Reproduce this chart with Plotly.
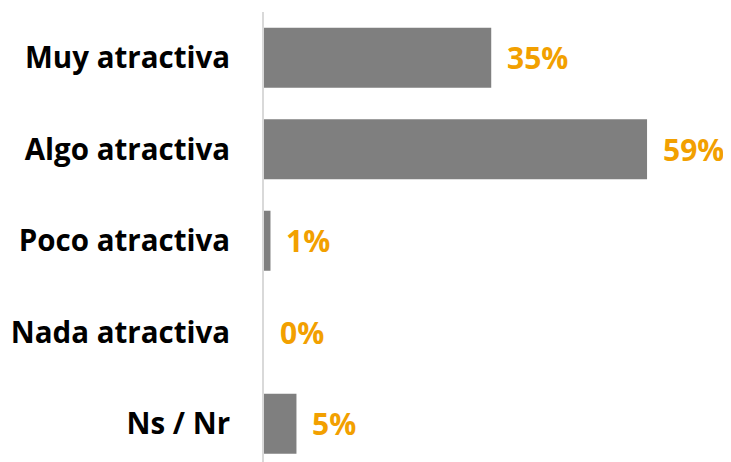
import plotly.graph_objects as go

categories = ["Muy atractiva", "Algo atractiva", "Poco atractiva", "Nada atractiva", "Ns / Nr"]
values = [35, 59, 1, 0, 5]
value_labels = ["35%", "59%", "1%", "0%", "5%"]

BAR = "#7f7f7f"
ORANGE = "#F2A000"
FONT = "'Open Sans', sans-serif"

fig = go.Figure()
fig.add_trace(go.Bar(
    y=categories, x=values, orientation="h",
    marker=dict(color=BAR, line=dict(width=0)),
    hoverinfo="skip",
))
for c, v, t in zip(categories, values, value_labels):
    fig.add_annotation(x=v, y=c, text=t, showarrow=False, xanchor="left", yanchor="middle",
                       xshift=14, font=dict(family=FONT, size=30, color=ORANGE, weight="bold"))

fig.update_layout(
    width=731, height=462,
    margin=dict(l=256, r=53, t=4, b=8),
    paper_bgcolor="white", plot_bgcolor="white",
    bargap=0.344,
    showlegend=False,
    font=dict(family=FONT),
)
fig.update_xaxes(range=[0, 65], visible=False, showgrid=False, zeroline=False, automargin=False)
fig.update_yaxes(
    categoryorder="array", categoryarray=categories,
    range=[4.418, -0.5],
    automargin=False,
    showline=True, linecolor="#d9d9d9", linewidth=2,
    showgrid=False, zeroline=False, ticks="",
    ticklabelstandoff=26,
    tickfont=dict(family=FONT, size=29.5, color="black", weight="bold"),
)
fig.write_html("out.html")
